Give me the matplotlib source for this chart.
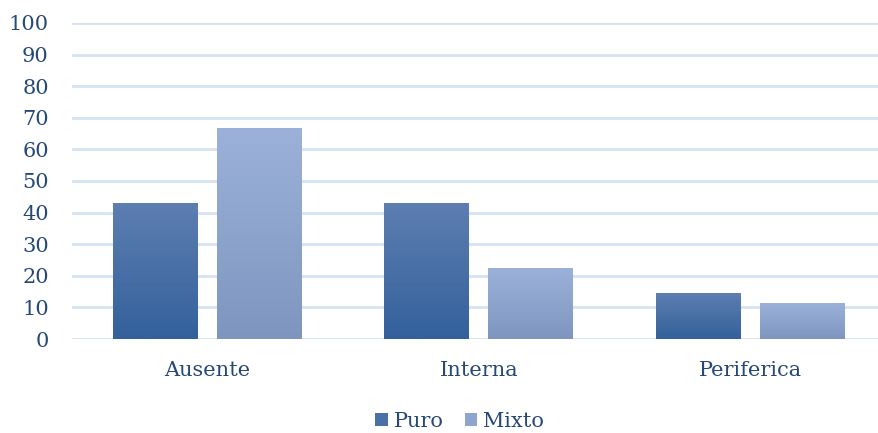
import numpy as np
import matplotlib.pyplot as plt
from matplotlib.patches import Patch

categories = ['Ausente', 'Interna', 'Periferica']
puro = [42.9, 42.9, 14.3]
mixto = [66.7, 22.2, 11.1]

text_color = '#264878'
plt.rcParams['font.family'] = ['DejaVu Serif']

fig = plt.figure(figsize=(8.79, 4.33), dpi=100)
ax = fig.add_axes([0.0816, 0.217, 0.9266, 0.73])

x = np.arange(len(categories))
w = 0.313
off = 0.1915


def grad_bar(xc, h, top, bottom):
    c1 = np.array(plt.matplotlib.colors.to_rgb(top))
    c2 = np.array(plt.matplotlib.colors.to_rgb(bottom))
    t = np.linspace(0, 1, 100)[:, None]
    img = (c1 * (1 - t) + c2 * t)[:, None, :]
    ax.imshow(img, extent=(xc - w / 2, xc + w / 2, 0, h), aspect='auto',
              origin='upper', zorder=3, interpolation='bilinear')


for i in range(len(categories)):
    grad_bar(x[i] - off, puro[i], '#5d7eb1', '#33619b')
    grad_bar(x[i] + off, mixto[i], '#9bb1d9', '#7e96bf')

ax.set_xlim(-0.5, 2.5)
ax.set_ylim(0, 100)
ax.set_yticks(range(0, 101, 10))
ax.set_xticks(x)
ax.set_xticklabels(categories)
ax.yaxis.grid(True, color='#d6e2f3', linewidth=2)
ax.set_axisbelow(True)
for s in ax.spines.values():
    s.set_visible(False)
ax.tick_params(length=0, labelsize=15, colors=text_color)
ax.tick_params(axis='y', pad=16.5)
ax.tick_params(axis='x', pad=16)

handles = [Patch(facecolor='#4a70a8', label='Puro'),
           Patch(facecolor='#8ea6cf', label='Mixto')]
fig.legend(handles=handles, loc='lower center', ncol=2, frameon=False,
           bbox_to_anchor=(0.523, 0.0), fontsize=15, labelcolor=text_color,
           handlelength=0.6, handleheight=0.6, handletextpad=0.3, columnspacing=1.0,
           borderpad=0.1, borderaxespad=0)

fig.savefig('out.png', dpi=100)
